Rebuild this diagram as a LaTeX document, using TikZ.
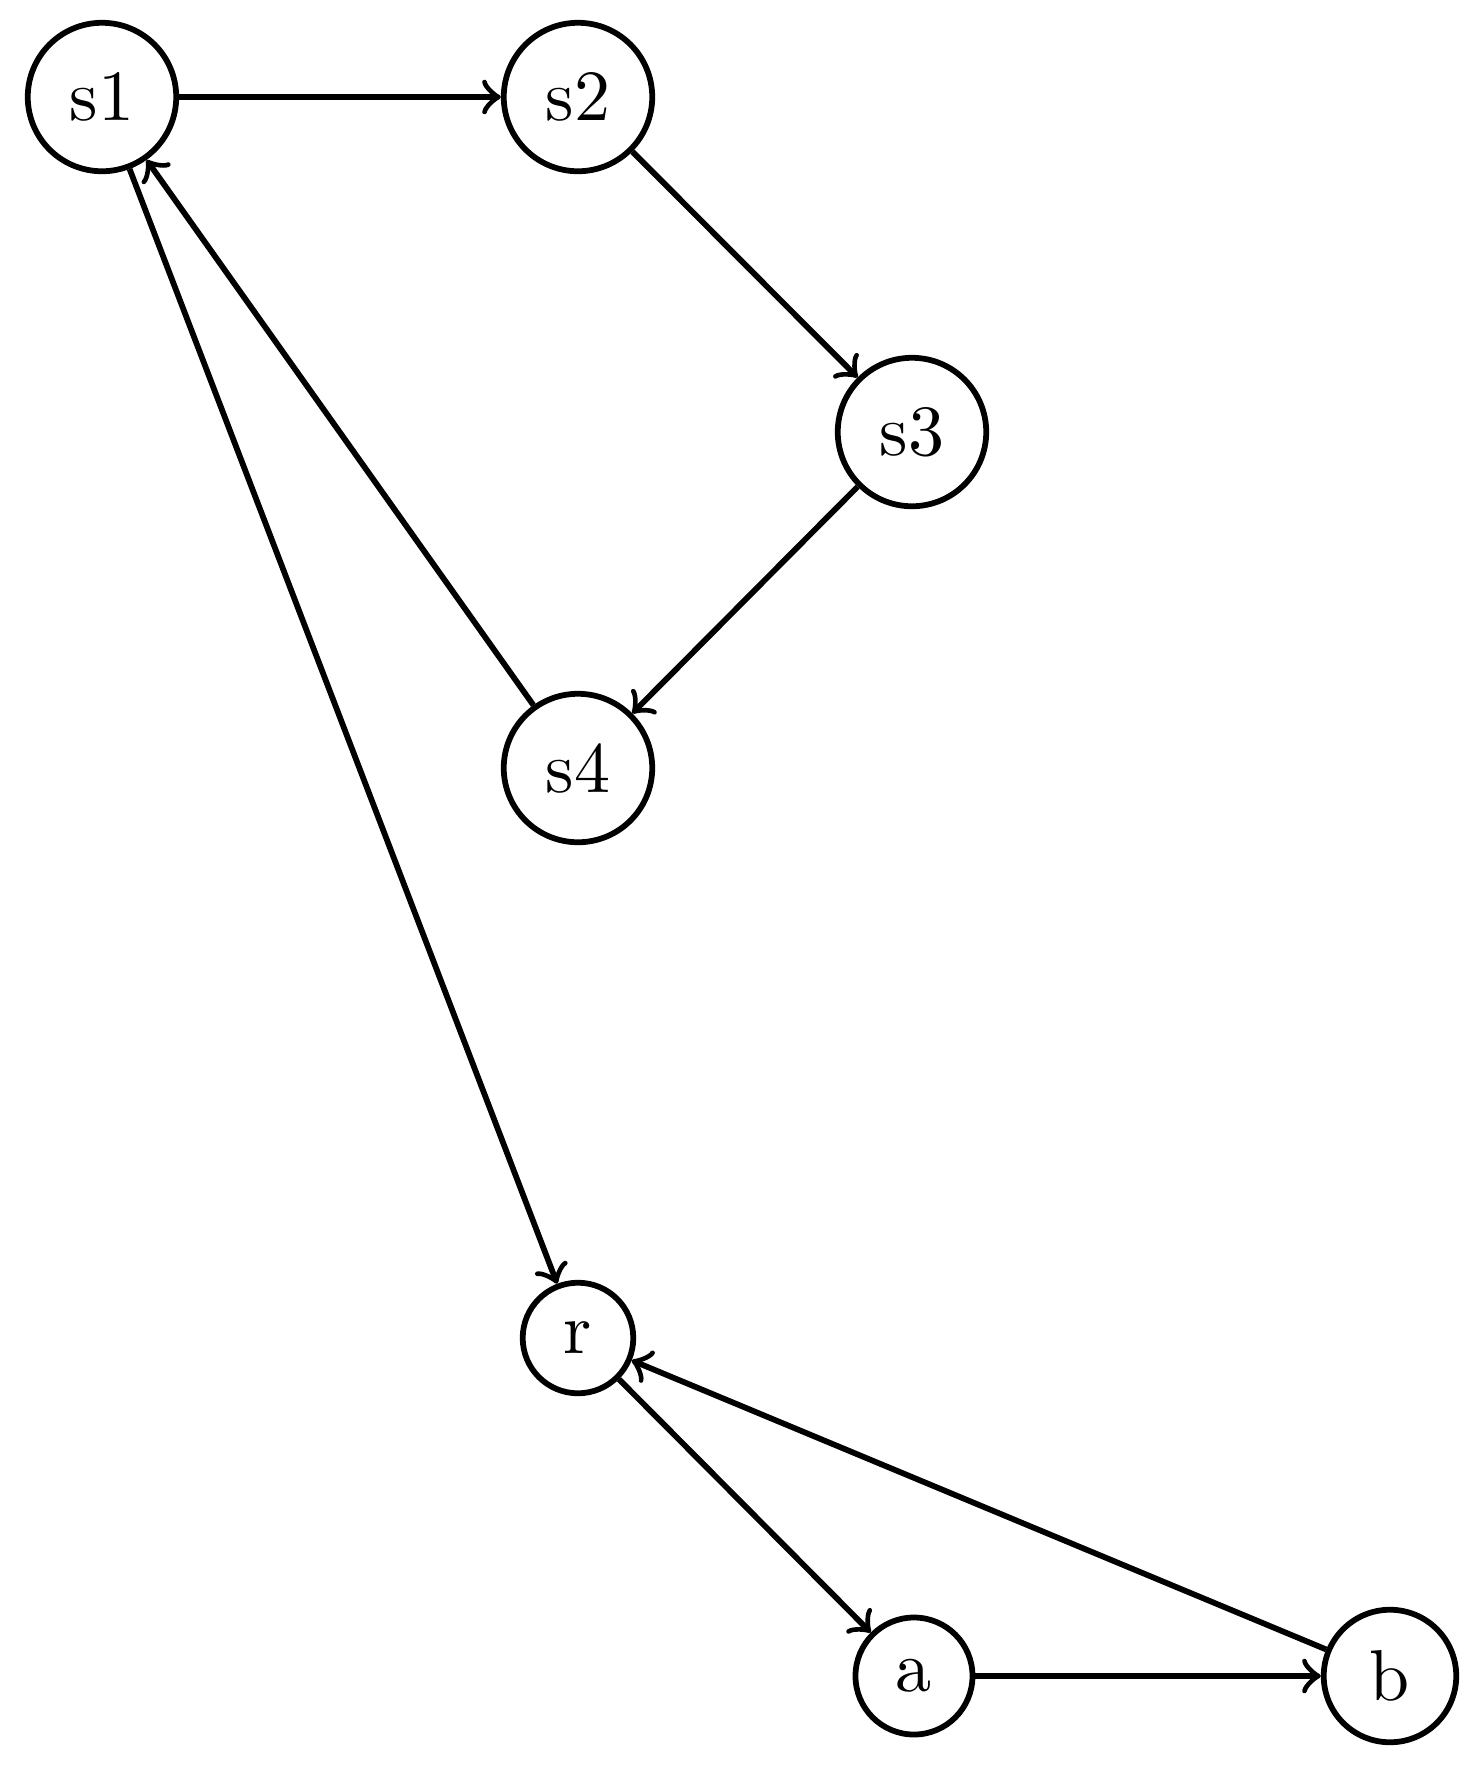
\documentclass[tikz,border=0pt]{standalone}
\begin{document}
\begin{tikzpicture}[x=0.1387pt,y=-0.1387pt,
  state/.style={circle,draw,thick},
  edge/.style={->,thick}]
\useasboundingbox (0,0) rectangle (1473,1775);
\node[state] (s1) at (102,97) {s1};
\node[state] (s2) at (578,97) {s2};
\node[state] (s3) at (912,432) {s3};
\node[state] (s4) at (578,768) {s4};
\node[state] (r) at (578,1338) {r};
\node[state] (a) at (914,1676) {a};
\node[state] (b) at (1390,1676) {b};
\draw[edge] (s1) -- (s2);
\draw[edge] (s2) -- (s3);
\draw[edge] (s3) -- (s4);
\draw[edge] (s4) -- (s1);
\draw[edge] (s1) -- (r);
\draw[edge] (r) -- (a);
\draw[edge] (a) -- (b);
\draw[edge] (b) -- (r);
\end{tikzpicture}
\end{document}
